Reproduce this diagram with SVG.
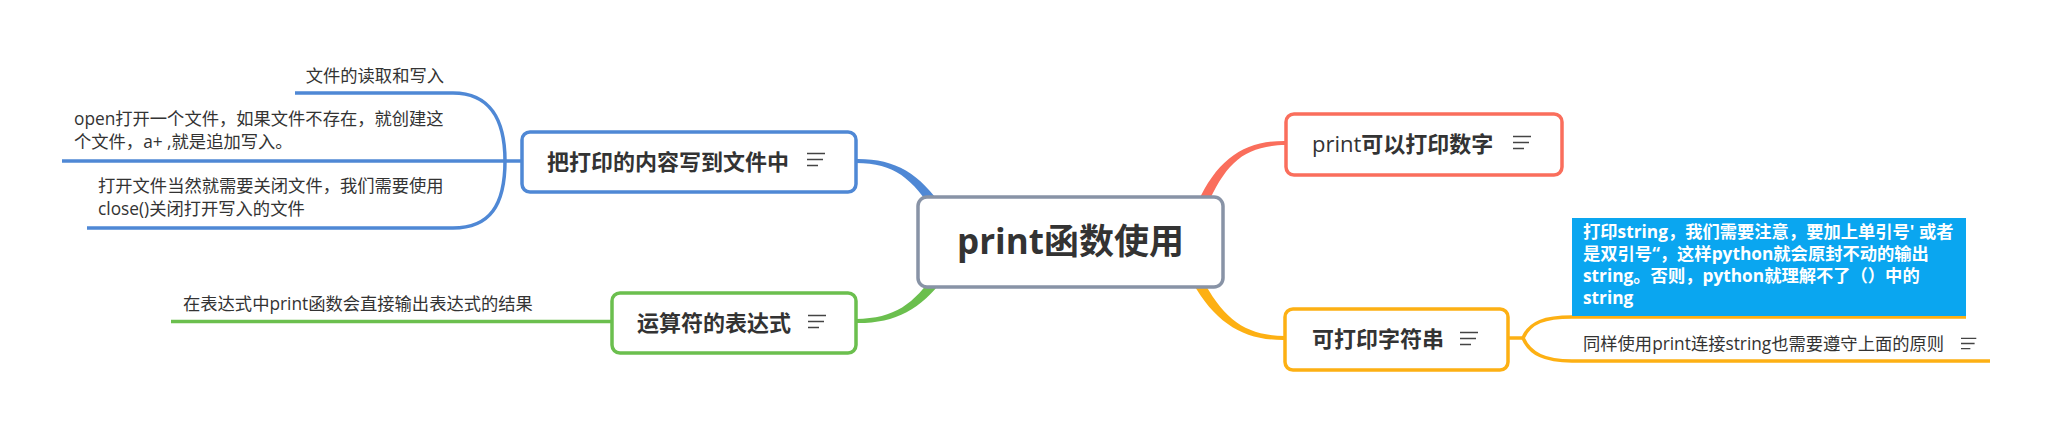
<svg xmlns="http://www.w3.org/2000/svg" width="2051" height="432" viewBox="0 0 2051 432">
<style>
text{font-family:"Open Sans","Noto Sans CJK SC",sans-serif;fill:#333;}
.title{font-size:22px;font-weight:bold;}
.sub{font-size:17.3px;}
.node{fill:#fff;stroke-width:3.5;}
.br{fill:none;stroke-width:3.5;stroke-linecap:butt;}
.icon{stroke:#444;stroke-width:1.6;fill:none;}
</style>
<defs>
<g id="note"><path class="icon" d="M0,0.5H18M0,6.5H16M0,12.5H11"/></g>
</defs>
<rect width="2051" height="432" fill="#fff"/>
<g id="connectors">
<path d="M856,159 C895,158.5 918.7,172.5 944.2,209.2 L935.8,214.8 C911.3,177.5 895,163.5 856,163 Z" fill="#4f88d5"/>
<path d="M1286,141 C1245,140.5 1217.9,158.2 1197.5,203 L1206.5,207 C1226.1,161.8 1245,145.5 1286,145 Z" fill="#fa6e5c"/>
<path d="M856,323 C895,323.5 920.6,309.6 944,277.9 L936,272.1 C913.4,304.4 895,318.5 856,319 Z" fill="#6bbf4e"/>
<path d="M1285,340 C1245,340.5 1216,324.2 1192.6,282.4 L1201.4,277.6 C1224,319.8 1245,335.5 1285,336 Z" fill="#fdb013"/>
<g stroke="#4f88d5" class="br">
<path d="M505,161 C505,120 490,93 453,93 L295,93"/>
<path d="M62,161 L522,161"/>
<path d="M505,161 C505,205 490,228 453,228 L87,228"/>
</g>
<path class="br" stroke="#6bbf4e" d="M171,321.5 L612,321.5"/>
<g stroke="#fdb013" class="br">
<path d="M1508,338 L1523,338"/>
<path d="M1523,338 C1530,322 1545,317 1572,317 L1966,317"/>
<path d="M1523,338 C1530,354 1545,361 1572,361 L1990,361"/>
</g>
</g>
<g id="central">
<rect x="918" y="197" width="305" height="90" rx="9" class="node" stroke="#8893a6"/>
<text x="1070.5" y="254" text-anchor="middle" style="font-size:35px;font-weight:bold">print函数使用</text>
</g>
<g id="n-file">
<rect x="522" y="132" width="334" height="60" rx="8" class="node" stroke="#4f88d5"/>
<text x="547" y="170" class="title">把打印的内容写到文件中</text>
<use href="#note" x="807" y="153"/>
</g>
<g id="n-file-1"><text x="444" y="82" class="sub" text-anchor="end">文件的读取和写入</text></g>
<g id="n-file-2"><text x="74" y="125" class="sub">open打开一个文件，如果文件不存在，就创建这</text><text x="74" y="148" class="sub">个文件，a+ ,就是追加写入。</text></g>
<g id="n-file-3"><text x="98" y="192" class="sub">打开文件当然就需要关闭文件，我们需要使用</text><text x="98" y="215" class="sub">close()关闭打开写入的文件</text></g>
<g id="n-expr">
<rect x="612" y="293" width="244" height="60" rx="8" class="node" stroke="#6bbf4e"/>
<text x="637" y="331" class="title">运算符的表达式</text>
<use href="#note" x="808" y="315"/>
</g>
<g id="n-expr-1"><text x="183" y="310" class="sub">在表达式中print函数会直接输出表达式的结果</text></g>
<g id="n-num">
<rect x="1286" y="114" width="276" height="61" rx="8" class="node" stroke="#fa6e5c"/>
<text x="1312" y="152" class="title"><tspan font-weight="normal">print</tspan>可以打印数字</text>
<use href="#note" x="1513" y="136"/>
</g>
<g id="n-str">
<rect x="1285" y="309" width="223" height="61" rx="8" class="node" stroke="#fdb013"/>
<text x="1312" y="347" class="title">可打印字符串</text>
<use href="#note" x="1460" y="332"/>
</g>
<g id="n-str-1">
<rect x="1572" y="218" width="394" height="98" fill="#0aa6f0"/>
<g class="sub" style="font-weight:bold">
<text x="1583" y="238" style="fill:#fff">打印string，我们需要注意，要加上单引号' 或者</text>
<text x="1583" y="260" style="fill:#fff">是双引号“，这样python就会原封不动的输出</text>
<text x="1583" y="282" style="fill:#fff">string。否则，python就理解不了（）中的</text>
<text x="1583" y="304" style="fill:#fff">string</text>
</g>
</g>
<g id="n-str-2">
<text x="1583" y="350" class="sub">同样使用print连接string也需要遵守上面的原则</text>
<use href="#note" x="1961" y="338" transform="translate(1961 338) scale(0.85) translate(-1961 -338)"/>
</g>
</svg>
